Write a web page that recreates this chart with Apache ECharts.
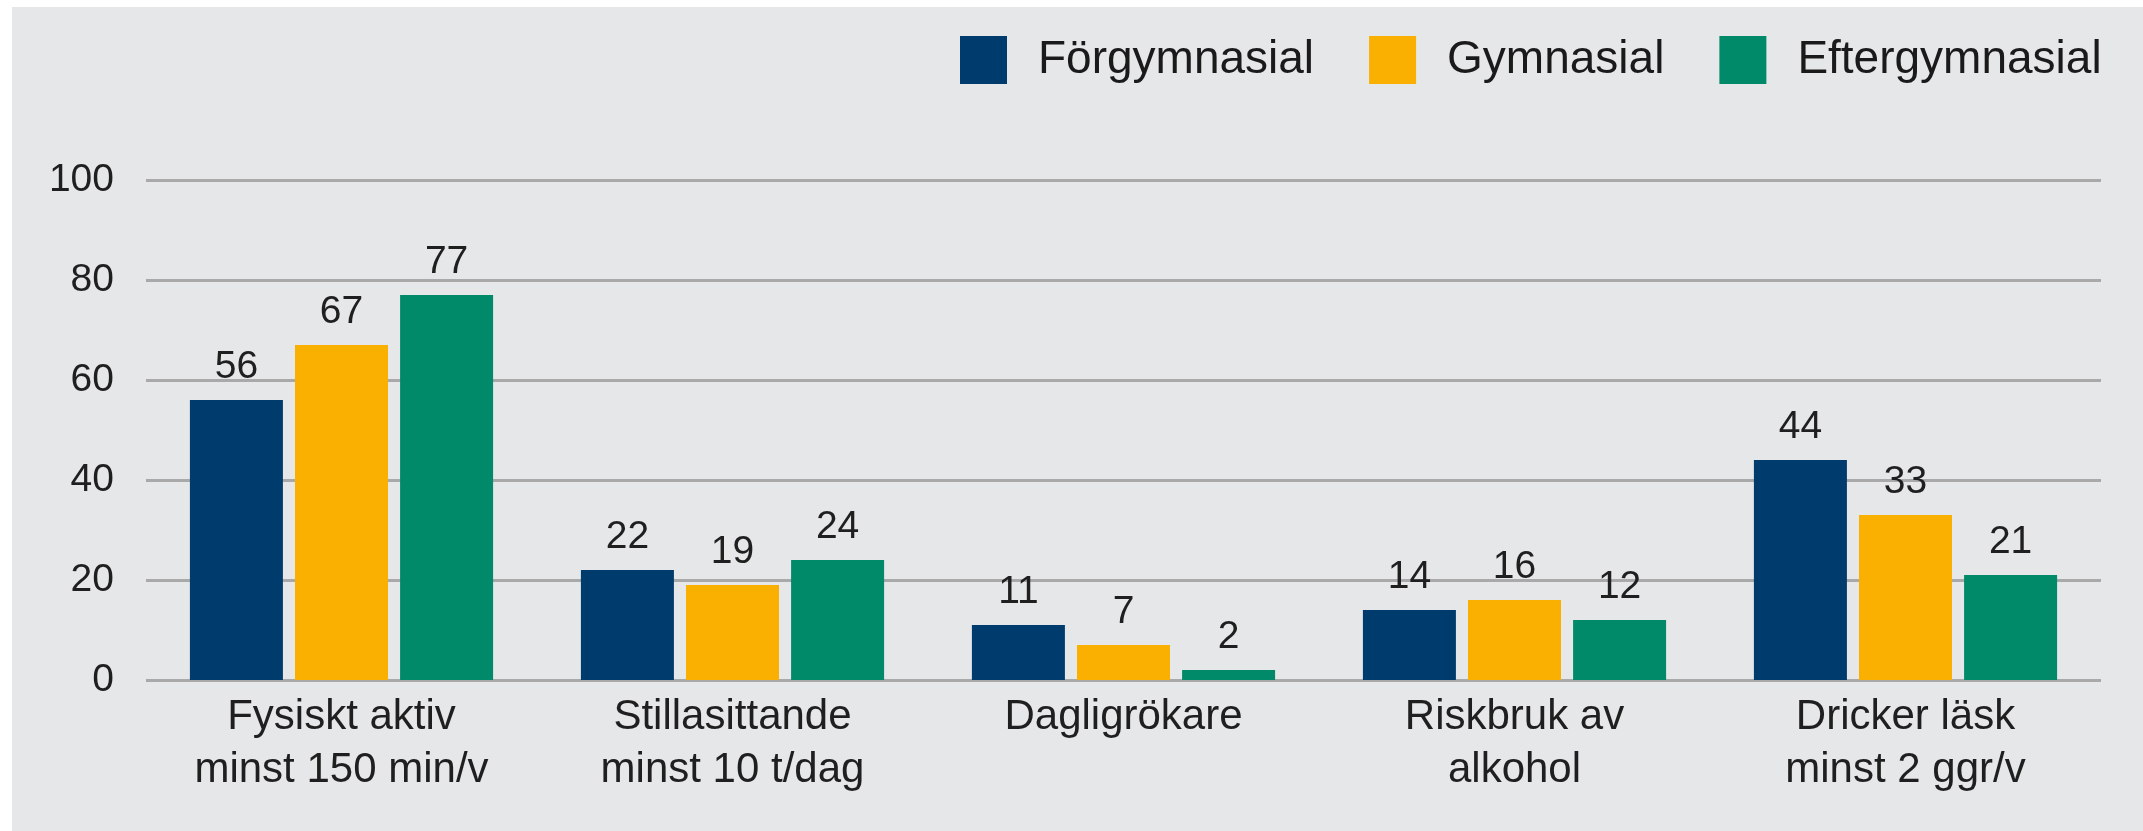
<!DOCTYPE html>
<html>
<head>
<meta charset="utf-8">
<script src="https://cdn.jsdelivr.net/npm/echarts@6/dist/echarts.min.js"></script>
<style>
    html, body { margin: 0; padding: 0; background: #ffffff; }
    #chart { position: absolute; left: 12px; top: 7px; width: 2131px; height: 824px; }
</style>
</head>
<body>
<div id="chart"></div>
<script>
// data
let categories = ['Fysiskt aktiv\nminst 150 min/v', 'Stillasittande\nminst 10 t/dag', 'Dagligrökare', 'Riskbruk av\nalkohol', 'Dricker läsk\nminst 2 ggr/v'];
let forgymnasial = [56, 22, 11, 14, 44];
let gymnasial = [67, 19, 7, 16, 33];
let eftergymnasial = [77, 24, 2, 12, 21];
let yTicks = [0, 20, 40, 60, 80, 100];

let fontFam = '"Liberation Sans", Arial, Helvetica, sans-serif';

let barChart = echarts.init(document.getElementById('chart'));

let barLabel = {
    show: true,
    position: 'top',
    distance: 13,
    color: '#1f1f1f',
    fontSize: 39,
    fontFamily: fontFam
};

let option = {
    backgroundColor: '#e6e7e8',
    animation: false,

    // Add custom colors
    color: ['#003b6d', '#f9b000', '#008a69'],

    legend: {
        left: 943,
        top: 24,
        itemWidth: 47,
        itemHeight: 48,
        itemGap: 55,
        icon: 'rect',
        data: ['Förgymnasial', 'Gymnasial', 'Eftergymnasial'],
        textStyle: {
            color: '#1a1a1a',
            fontSize: 46,
            fontFamily: fontFam,
            padding: [0, 0, 0, 26]
        }
    },

    grid: {
        left: 134,
        right: 42,
        top: 173,
        bottom: 151
    },

    xAxis: {
        type: 'category',
        data: categories,
        axisLine: { show: false },
        axisTick: { show: false },
        axisLabel: {
            color: '#1f1f1f',
            fontSize: 42,
            lineHeight: 53,
            margin: 11,
            fontFamily: fontFam
        }
    },

    yAxis: {
        type: 'value',
        min: yTicks[0],
        max: yTicks[yTicks.length - 1],
        interval: 20,
        axisLine: { show: false },
        axisTick: { show: false },
        axisLabel: {
            color: '#1f1f1f',
            fontSize: 39,
            margin: 32,
            fontFamily: fontFam
        },
        splitLine: {
            lineStyle: { color: '#a9a9a9', width: 3 }
        }
    },

    series: [{
            name: 'Förgymnasial',
            type: 'bar',
            barWidth: 93,
            barGap: '13%',
            label: barLabel,
            data: forgymnasial
        },
        {
            name: 'Gymnasial',
            type: 'bar',
            barWidth: 93,
            barGap: '13%',
            label: barLabel,
            data: gymnasial
        },
        {
            name: 'Eftergymnasial',
            type: 'bar',
            barWidth: 93,
            barGap: '13%',
            label: barLabel,
            data: eftergymnasial
        }
    ]
};

barChart.setOption(option);

window.addEventListener('resize', function() {
    barChart.resize();
})
</script>
</body>
</html>
